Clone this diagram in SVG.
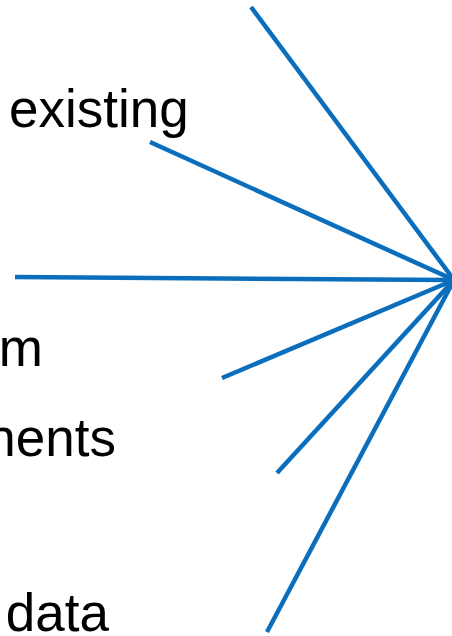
<svg xmlns="http://www.w3.org/2000/svg" width="452" height="636" viewBox="0 0 452 636">
<style>
.t{font-family:"Liberation Sans",Arial,sans-serif;font-size:53px;fill:#000}
.c{stroke:#0A6EBD;stroke-width:4.5;fill:none}
</style>
<rect width="452" height="636" fill="#fff"/>
<g id="labels">
<g id="n1"><text class="t" x="9" y="127">existing</text></g>
<g id="n2"><text class="t" x="43" y="366" text-anchor="end">rm</text></g>
<g id="n3"><text class="t" x="116" y="456" text-anchor="end">nents</text></g>
<g id="n4"><text class="t" x="109" y="631" text-anchor="end">data</text></g>
</g>
<g id="connectors">
<line class="c" x1="251" y1="7" x2="454" y2="280"/>
<line class="c" x1="150" y1="142" x2="454" y2="280"/>
<line class="c" x1="15" y1="277" x2="454" y2="280"/>
<line class="c" x1="222" y1="378" x2="454" y2="280"/>
<line class="c" x1="277" y1="473" x2="454" y2="280"/>
<line class="c" x1="267" y1="632" x2="454" y2="280"/>
</g>
</svg>
